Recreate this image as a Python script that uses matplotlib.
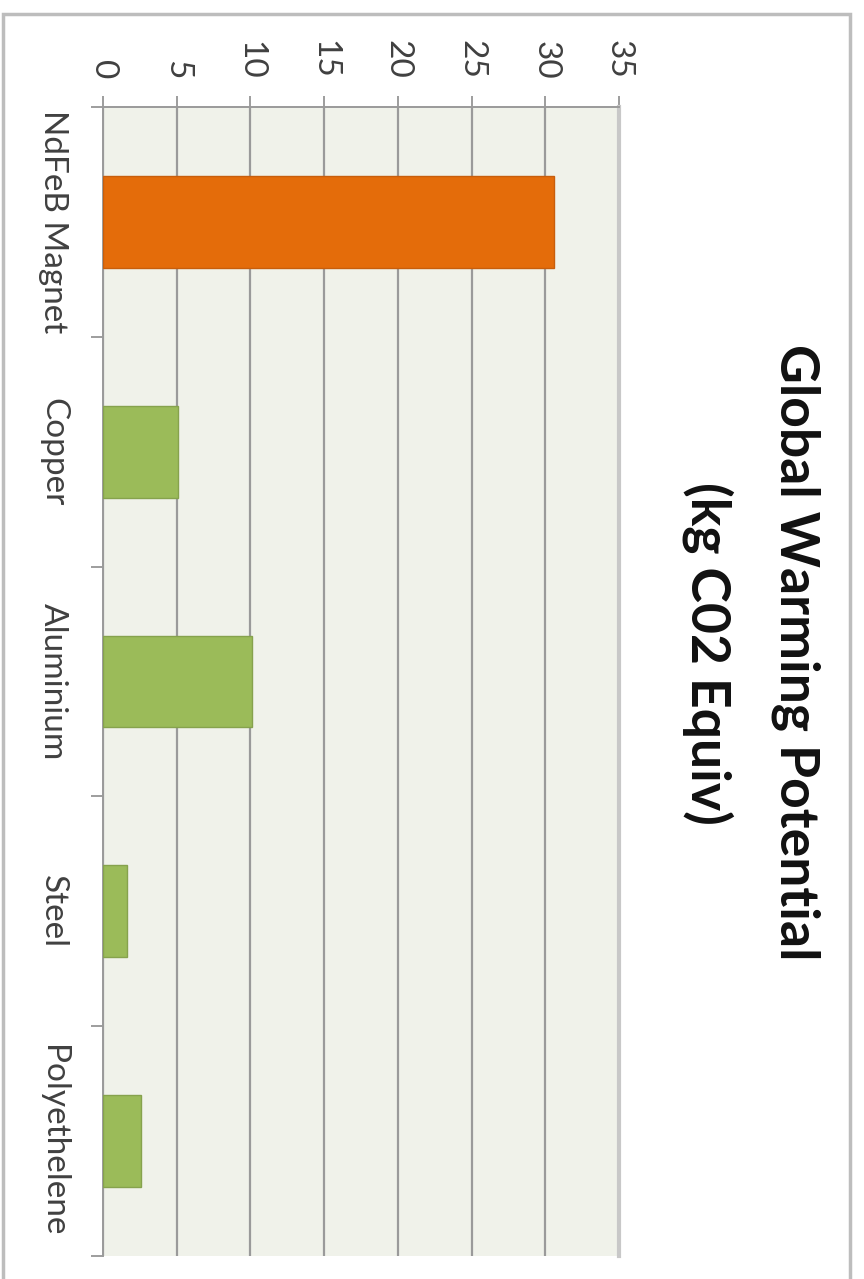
import matplotlib.pyplot as plt
from matplotlib.patches import Rectangle

# Global warming potential per material (kg CO2 equiv)
materials = ["NdFeB Magnet", "Copper", "Aluminium", "Steel", "Polyethelene"]
gwp = [30.6, 5.1, 10.1, 1.6, 2.6]
bar_colors = ["#E46C0A", "#9BBB59", "#9BBB59", "#9BBB59", "#9BBB59"]
edge_colors = ["#C85E0C", "#86A24D", "#86A24D", "#86A24D", "#86A24D"]
value_ticks = [0, 5, 10, 15, 20, 25, 30, 35]

plt.rcParams["font.family"] = ["Lato", "DejaVu Sans"]

W, H = 864, 1279
fig = plt.figure(figsize=(W / 100, H / 100), dpi=100)
fig.patch.set_facecolor("white")


def fx(px):
    return px / W


def fy(py):
    return 1 - py / H


# chart-area border (bottom edge falls outside the canvas)
fig.add_artist(Rectangle((fx(3), -0.05), fx(850) - fx(3), fy(14) + 0.05,
                         transform=fig.transFigure, fill=False,
                         edgecolor="#BDBDBD", linewidth=2.5, zorder=0))

left, right, top, bottom = 103, 619, 107, 1256
ax = fig.add_axes([fx(left), fy(bottom), fx(right) - fx(left), fy(top) - fy(bottom)])
ax.set_facecolor("#F0F2EA")

ypos = list(range(len(materials)))
ax.barh(ypos, gwp, height=0.4, color=bar_colors, edgecolor=edge_colors,
        linewidth=1.0, zorder=3)

ax.set_xlim(0, 35)
ax.set_ylim(len(materials) - 0.5, -0.5)

# value axis along the top, text turned a quarter clockwise
ax.xaxis.tick_top()
ax.set_xticks(value_ticks)
ax.set_xticklabels([str(v) for v in value_ticks], rotation=270)
ax.tick_params(axis="x", which="major", length=8, width=1.2, color="#8C8C8C",
               pad=12, labelsize=24, labelcolor="#404040")
ax.grid(axis="x", color="#9A9A9A", linewidth=1.6, zorder=1)
ax.set_axisbelow(True)

# category axis on the left, boundary ticks as minor ticks
ax.set_yticks(ypos)
ax.set_yticklabels(materials, rotation=270, va="center")
ax.set_yticks([i - 0.5 for i in range(len(materials) + 1)], minor=True)
ax.tick_params(axis="y", which="major", length=0, pad=25, labelsize=24,
               labelcolor="#404040")
ax.tick_params(axis="y", which="minor", length=9, width=1.2, color="#8C8C8C")

for side in ("top", "left"):
    ax.spines[side].set_color("#9A9A9A")
    ax.spines[side].set_linewidth(1.4)
ax.spines["bottom"].set_visible(False)
ax.spines["right"].set_color("#C8C8C8")
ax.spines["right"].set_linewidth(3)

fig.text(fx(796), fy(652), "Global Warming Potential", rotation=270,
         ha="center", va="center", fontsize=38.5, fontweight="bold", color="#111111")
fig.text(fx(708), fy(653), "(kg C02 Equiv)", rotation=270,
         ha="center", va="center", fontsize=38.5, fontweight="bold", color="#111111")

fig.savefig("out.png", dpi=100)
